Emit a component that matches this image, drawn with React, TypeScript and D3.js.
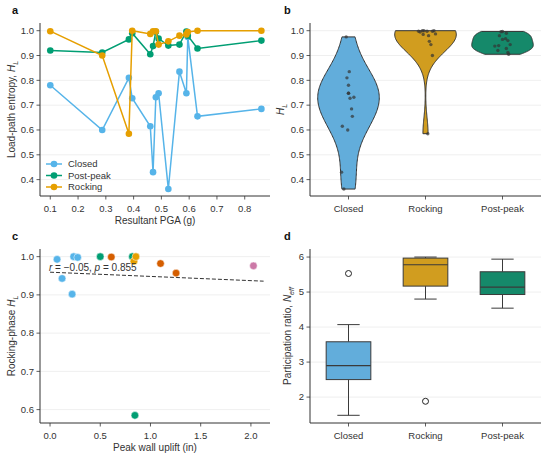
import * as d3 from "d3";

// ---- panel a: load-path entropy vs PGA ----
const pga = [0.1, 0.287, 0.383, 0.395, 0.46, 0.47, 0.48, 0.49, 0.525, 0.565, 0.59, 0.595, 0.63, 0.86];
const hClosed = [0.78, 0.6, 0.81, 0.728, 0.615, 0.43, 0.732, 0.748, 0.362, 0.835, 0.748, 0.975, 0.655, 0.685];
const hPostPeak = [0.92, 0.912, 0.965, 0.99, 0.905, 0.938, 0.996, 0.968, 0.94, 0.944, 0.997, 0.98, 0.928, 0.96];
const hRocking = [0.998, 0.9, 0.585, 1.0, 0.987, 0.998, 0.998, 0.944, 0.957, 0.98, 0.985, 0.995, 1.0, 1.0];

const phases = ["Closed", "Rocking", "Post-peak"];
const legendOrder = ["Closed", "Post-peak", "Rocking"];
const lineColors: Record<string, string> = { Closed: "#56B4E9", "Post-peak": "#009E73", Rocking: "#E69F00" };
const fillColors: Record<string, string> = { Closed: "#62ADDB", Rocking: "#D19D1F", "Post-peak": "#15896A" };

// strip jitter (fraction of band)
const jitterClosed = [0, -0.01, -0.02, 0.02, -0.08, -0.09, 0.07, 0.0, -0.06, 0.01, 0.0, -0.03, 0.05, 0.04];
const jitterRocking = [-0.09, 0.09, 0.03, -0.04, 0.13, 0.02, 0.09, 0.07, 0.05, 0.04, -0.03, -0.07, 0.11, -0.02];
const jitterPostPeak = [-0.06, 0.07, 0.0, 0.05, 0.08, -0.1, -0.02, 0.04, -0.05, 0.1, 0.0, -0.04, 0.05, 0.07];

// ---- panel c: rocking-phase H vs uplift ----
const uplift = [0.07, 0.12, 0.22, 0.235, 0.275, 0.5, 0.82, 0.845, 0.61, 1.1, 1.255, 0.835, 0.855, 2.025];
const rockingH = [0.993, 0.943, 0.902, 1.0, 0.998, 1.0, 1.0, 0.585, 0.999, 0.982, 0.957, 0.988, 1.0, 0.976];
const upliftGroup = [0, 0, 0, 0, 0, 1, 1, 1, 2, 2, 2, 3, 3, 4];
const groupColors = ["#56B4E9", "#009E73", "#D55E00", "#E69F00", "#CC79A7"];

// ---- panel d: participation ratio box stats ----
const boxLow = [1.48, 4.8, 4.54];
const boxQ1 = [2.5, 5.17, 4.93];
const boxMed = [2.9, 5.78, 5.14];
const boxQ3 = [3.58, 5.97, 5.58];
const boxHigh = [4.07, 6.0, 5.94];
const boxOutliers = [[5.53], [1.88], []];

const FONT = "'Liberation Sans', Arial, sans-serif";
const TXT = "#333";
const GRID = "#ebebeb";

function kde(values: number[], n = 120) {
  const m = d3.mean(values)!;
  const sd = Math.sqrt(d3.sum(values, (v) => (v - m) ** 2) / (values.length - 1));
  const bw = sd * Math.pow(values.length, -0.2);
  const lo = d3.min(values)!;
  const hi = d3.max(values)!;
  return d3.range(n + 1).map((i) => {
    const y = lo + ((hi - lo) * i) / n;
    const d = d3.sum(values, (v) => Math.exp(-0.5 * ((y - v) / bw) ** 2));
    return { y, d };
  });
}

function YAxis({ y, left, right, ticks, fmt }: any) {
  return (
    <g>
      {ticks.map((t: number) => (
        <g key={t}>
          <line x1={left} x2={right} y1={y(t)} y2={y(t)} stroke={GRID} strokeWidth={0.8} />
          <line x1={left - 3.5} x2={left} y1={y(t)} y2={y(t)} stroke={TXT} strokeWidth={0.8} />
          <text x={left - 6} y={y(t)} dy="0.35em" textAnchor="end" fontSize={9.5} fill={TXT}>
            {fmt(t)}
          </text>
        </g>
      ))}
    </g>
  );
}

function XTicks({ ticks, x, bottom, fmt }: any) {
  return (
    <g>
      {ticks.map((t: any) => (
        <g key={String(t)}>
          <line x1={x(t)} x2={x(t)} y1={bottom} y2={bottom + 3.5} stroke={TXT} strokeWidth={0.8} />
          <text x={x(t)} y={bottom + 16} textAnchor="middle" fontSize={9.5} fill={TXT}>
            {fmt(t)}
          </text>
        </g>
      ))}
    </g>
  );
}

function Spines({ left, right, top, bottom }: any) {
  return (
    <path d={`M${left},${top}V${bottom}H${right}`} fill="none" stroke={TXT} strokeWidth={1} />
  );
}

function PanelA() {
  const L = 40, R = 270, T = 23, B = 196;
  const x = d3.scaleLinear().domain([0.063, 0.891]).range([L, R]);
  const y = d3.scaleLinear().domain([0.334, 1.031]).range([B, T]);
  const series: Record<string, number[]> = { Closed: hClosed, "Post-peak": hPostPeak, Rocking: hRocking };
  const line = d3.line<number>().x((_d, i) => x(pga[i])).y((d) => y(d));
  return (
    <g>
      <YAxis y={y} left={L} right={R} ticks={d3.range(0.4, 1.01, 0.1)} fmt={d3.format(".1f")} />
      {legendOrder.map((k) => (
        <g key={k}>
          <path d={line(series[k])!} fill="none" stroke={lineColors[k]} strokeWidth={1.5} />
          {series[k].map((v, i) => (
            <circle key={i} cx={x(pga[i])} cy={y(v)} r={3.3} fill={lineColors[k]} />
          ))}
        </g>
      ))}
      <Spines left={L} right={R} top={T} bottom={B} />
      <XTicks ticks={d3.range(0.1, 0.81, 0.1)} x={x} bottom={B} fmt={d3.format(".1f")} />
      <text x={(L + R) / 2} y={B + 28} textAnchor="middle" fontSize={10} fill={TXT}>
        Resultant PGA (g)
      </text>
      <text transform={`translate(15,${(T + B) / 2}) rotate(-90)`} textAnchor="middle" fontSize={10} fill={TXT}>
        Load-path entropy, <tspan fontStyle="italic">H</tspan>
        <tspan fontStyle="italic" fontSize={7} dy={2.5}>L</tspan>
      </text>
      {legendOrder.map((k, i) => (
        <g key={k} transform={`translate(46,${164 + i * 11.5})`}>
          <line x1={0} x2={16} stroke={lineColors[k]} strokeWidth={1.5} />
          <circle cx={8} cy={0} r={3.3} fill={lineColors[k]} />
          <text x={22} dy="0.35em" fontSize={9.5} fill={TXT}>
            {k}
          </text>
        </g>
      ))}
      <text x={12} y={14} fontSize={11} fontWeight="bold" fill="#111">a</text>
    </g>
  );
}

function PanelB() {
  const L = 310, R = 541, T = 23, B = 196;
  const x = d3.scaleBand().domain(phases).range([L, R]);
  const y = d3.scaleLinear().domain([0.334, 1.031]).range([B, T]);
  const vals: Record<string, number[]> = { Closed: hClosed, Rocking: hRocking, "Post-peak": hPostPeak };
  const jit: Record<string, number[]> = { Closed: jitterClosed, Rocking: jitterRocking, "Post-peak": jitterPostPeak };
  const half = (x.bandwidth() * 0.8) / 2;
  return (
    <g>
      <YAxis y={y} left={L} right={R} ticks={d3.range(0.4, 1.01, 0.1)} fmt={d3.format(".1f")} />
      {phases.map((p) => {
        const dens = kde(vals[p]);
        const maxD = d3.max(dens, (d) => d.d)!;
        const cx = x(p)! + x.bandwidth() / 2;
        const w = d3.scaleLinear().domain([0, maxD]).range([0, half]);
        const area = d3
          .area<{ y: number; d: number }>()
          .y((d) => y(d.y))
          .x0((d) => cx - w(d.d))
          .x1((d) => cx + w(d.d))
          .curve(d3.curveBasis);
        return (
          <g key={p}>
            <path d={area(dens)! + "Z"} fill={fillColors[p]} stroke="#333" strokeWidth={1} />
            {vals[p].map((v, i) => (
              <circle key={i} cx={cx + jit[p][i] * x.bandwidth()} cy={y(v)} r={1.7} fill="#333" fillOpacity={0.7} />
            ))}
          </g>
        );
      })}
      <Spines left={L} right={R} top={T} bottom={B} />
      <XTicks ticks={phases} x={(p: string) => x(p)! + x.bandwidth() / 2} bottom={B} fmt={(d: string) => d} />
      <text transform={`translate(284,${(T + B) / 2}) rotate(-90)`} textAnchor="middle" fontSize={10} fill={TXT}>
        <tspan fontStyle="italic">H</tspan>
        <tspan fontStyle="italic" fontSize={7} dy={2.5}>L</tspan>
      </text>
      <text x={284} y={14} fontSize={11} fontWeight="bold" fill="#111">b</text>
    </g>
  );
}

function PanelC() {
  const L = 40, R = 270, T = 249, B = 423;
  const x = d3.scaleLinear().domain([-0.1, 2.19]).range([L, R]);
  const y = d3.scaleLinear().domain([0.565, 1.02]).range([B, T]);
  const mx = d3.mean(uplift)!;
  const my = d3.mean(rockingH)!;
  const slope =
    d3.sum(uplift, (v, i) => (v - mx) * (rockingH[i] - my)) / d3.sum(uplift, (v) => (v - mx) ** 2);
  const icpt = my - slope * mx;
  const xEnd = d3.max(uplift)! * 1.05;
  return (
    <g>
      <YAxis y={y} left={L} right={R} ticks={[0.6, 0.7, 0.8, 0.9, 1.0]} fmt={d3.format(".1f")} />
      <line x1={x(0)} x2={x(xEnd)} y1={y(icpt)} y2={y(icpt + slope * xEnd)} stroke="#333" strokeWidth={1} strokeDasharray="4,2" />
      {uplift.map((u, i) => (
        <circle key={i} cx={x(u)} cy={y(rockingH[i])} r={3.8} fill={groupColors[upliftGroup[i]]} stroke="#fff" strokeWidth={0.5} />
      ))}
      <text x={L + 9} y={271} fontSize={10} fill={TXT}>
        <tspan fontStyle="italic">r</tspan> = −0.05, <tspan fontStyle="italic">p</tspan> = 0.855
      </text>
      <Spines left={L} right={R} top={T} bottom={B} />
      <XTicks ticks={[0, 0.5, 1, 1.5, 2]} x={x} bottom={B} fmt={d3.format(".1f")} />
      <text x={(L + R) / 2} y={B + 28} textAnchor="middle" fontSize={10} fill={TXT}>
        Peak wall uplift (in)
      </text>
      <text transform={`translate(15,${(T + B) / 2}) rotate(-90)`} textAnchor="middle" fontSize={10} fill={TXT}>
        Rocking-phase <tspan fontStyle="italic">H</tspan>
        <tspan fontStyle="italic" fontSize={7} dy={2.5}>L</tspan>
      </text>
      <text x={12} y={240} fontSize={11} fontWeight="bold" fill="#111">c</text>
    </g>
  );
}

function PanelD() {
  const L = 310, R = 541, T = 249, B = 423;
  const x = d3.scaleBand().domain(phases).range([L, R]);
  const y = d3.scaleLinear().domain([1.26, 6.23]).range([B, T]);
  const bw = x.bandwidth() * 0.58;
  return (
    <g>
      <YAxis y={y} left={L} right={R} ticks={[2, 3, 4, 5, 6]} fmt={d3.format("d")} />
      {phases.map((p, i) => {
        const cx = x(p)! + x.bandwidth() / 2;
        const st = "#3a3a3a";
        return (
          <g key={p}>
            <line x1={cx} x2={cx} y1={y(boxLow[i])} y2={y(boxQ1[i])} stroke={st} strokeWidth={1} />
            <line x1={cx} x2={cx} y1={y(boxQ3[i])} y2={y(boxHigh[i])} stroke={st} strokeWidth={1} />
            <line x1={cx - bw / 4} x2={cx + bw / 4} y1={y(boxLow[i])} y2={y(boxLow[i])} stroke={st} strokeWidth={1} />
            <line x1={cx - bw / 4} x2={cx + bw / 4} y1={y(boxHigh[i])} y2={y(boxHigh[i])} stroke={st} strokeWidth={1} />
            <rect x={cx - bw / 2} width={bw} y={y(boxQ3[i])} height={y(boxQ1[i]) - y(boxQ3[i])} fill={fillColors[p]} stroke={st} strokeWidth={1} />
            <line x1={cx - bw / 2} x2={cx + bw / 2} y1={y(boxMed[i])} y2={y(boxMed[i])} stroke={st} strokeWidth={1.2} />
            {boxOutliers[i].map((o, j) => (
              <circle key={j} cx={cx} cy={y(o)} r={3} fill="none" stroke="#222" strokeWidth={1} />
            ))}
          </g>
        );
      })}
      <Spines left={L} right={R} top={T} bottom={B} />
      <XTicks ticks={phases} x={(p: string) => x(p)! + x.bandwidth() / 2} bottom={B} fmt={(d: string) => d} />
      <text transform={`translate(291,${(T + B) / 2}) rotate(-90)`} textAnchor="middle" fontSize={10} fill={TXT}>
        Participation ratio, <tspan fontStyle="italic">N</tspan>
        <tspan fontStyle="italic" fontSize={7} dy={2.5}>eff</tspan>
      </text>
      <text x={284} y={240} fontSize={11} fontWeight="bold" fill="#111">d</text>
    </g>
  );
}

export default function App() {
  return (
    <div style={{ position: "absolute", left: 0, top: 0 }}>
      <svg width={550} height={457} fontFamily={FONT} style={{ display: "block", background: "#fff" }}>
        <PanelA />
        <PanelB />
        <PanelC />
        <PanelD />
      </svg>
    </div>
  );
}
